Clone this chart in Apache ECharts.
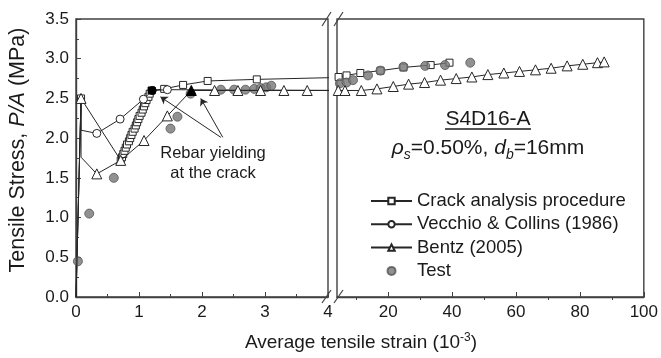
<!DOCTYPE html>
<html>
<head>
<meta charset="utf-8">
<script src="https://cdn.jsdelivr.net/npm/echarts@6/dist/echarts.min.js"></script>
<style>html,body{margin:0;padding:0;background:#fff;}#c{width:661px;height:358px;}</style>
</head>
<body>
<div id="c"></div>
<script>
// ---- data (strain in 10^-3, stress in MPa) ----
const seriesNames = ['Crack analysis procedure', 'Vecchio & Collins (1986)', 'Bentz (2005)', 'Test'];
const xTicksLeft = [0, 1, 2, 3, 4];
const xTicksRight = [20, 40, 60, 80, 100];
const xMinorRight = [10, 30, 50, 70, 90];
const yTicks = [0, 0.5, 1.0, 1.5, 2.0, 2.5, 3.0, 3.5];

const crackLeft = [[0,0],[0.08,2.50],[0.71,1.72],
  [0.73,1.76],[0.75,1.80],[0.77,1.84],[0.79,1.88],[0.81,1.92],[0.84,1.96],[0.86,2.00],
  [0.88,2.04],[0.90,2.08],[0.93,2.12],[0.95,2.16],[0.97,2.20],[0.99,2.24],[1.01,2.28],
  [1.04,2.32],[1.06,2.36],[1.08,2.40],[1.10,2.44],[1.12,2.48],[1.15,2.52],[1.17,2.56],
  [1.20,2.60],[1.40,2.62],[1.70,2.67],[2.09,2.72],[2.87,2.74],[4.50,2.77]];
const crackRight = [[2.87,2.74],[4.5,2.77],[7.0,2.79],[11.3,2.82],[17.6,2.85],[24.8,2.89],[33.3,2.92],[39.2,2.95]];
const vecchioLeft = [[0,0],[0.08,2.50],[0.08,2.10],[0.33,2.06],[0.70,2.24],[1.07,2.49],[1.21,2.60],[1.45,2.61],[4.5,2.60]];
const bentzLeft = [[0,0],[0.08,2.50],[0.08,1.76],[0.33,1.55],[0.71,1.72],[1.08,1.97],[1.45,2.28],[1.83,2.60],
  [2.20,2.60],[2.57,2.60],[2.93,2.60],[3.30,2.60],[3.67,2.60],[4.4,2.60]];
const bentzRight = [[3.67,2.60],[4.4,2.60],[6.5,2.60],[11.6,2.60],[16.5,2.62],[21.6,2.65],[26.4,2.68],[31.4,2.70],
  [36.4,2.73],[41.3,2.75],[46.2,2.77],[51.2,2.80],[56.2,2.82],[61.1,2.84],[66.1,2.86],[71.0,2.88],
  [76.0,2.91],[80.9,2.93],[85.5,2.95],[87.6,2.96]];
const testLeft = [[0.03,0.45],[0.21,1.05],[0.60,1.50],[1.50,2.12],[1.61,2.27],[1.82,2.56],[2.30,2.61],[2.51,2.61],
  [2.69,2.61],[2.83,2.62],[2.93,2.63],[3.02,2.64],[3.10,2.66]];
const testRight = [[4.9,2.69],[7.0,2.70],[9.0,2.73],[13.7,2.79],[17.6,2.85],[24.8,2.90],[31.6,2.91],[37.8,2.92],[45.7,2.95]];
// arrows: [text end, yielding point]
const arrows = [[[2.30,2.01],[1.34,2.52]],[[2.33,2.01],[1.98,2.50]]];

// ---- styling helpers ----
const FONT = "Arial, 'Liberation Sans', sans-serif";
const LINE = '#262626';
const AX = '#404040';

function mk(arr, hide, black) {
  return arr.map((p, i) => {
    const o = { value: p };
    if (hide.includes(i)) o.symbol = 'none';
    if (black.includes(i)) o.itemStyle = { color: '#000', borderColor: '#000' };
    return o;
  });
}
function lineSeries(name, data, xi, symbol, size, z) {
  return {
    name, type: 'line', xAxisIndex: xi, yAxisIndex: xi, data,
    symbol, symbolSize: size, showAllSymbol: true, clip: true, z,
    itemStyle: { color: '#fff', borderColor: LINE, borderWidth: 1 },
    lineStyle: { color: LINE, width: 1 },
    emphasis: { disabled: true }
  };
}
function testSeries(data, xi) {
  return {
    name: 'Test', type: 'scatter', xAxisIndex: xi, yAxisIndex: xi, data,
    symbol: 'circle', symbolSize: 9, z: 4, clip: true,
    itemStyle: { color: '#767676', borderColor: '#555', borderWidth: 1 },
    emphasis: { disabled: true }
  };
}

const chart = echarts.init(document.getElementById('c'), null, { renderer: 'canvas' });

const vecS = lineSeries(seriesNames[1], mk(vecchioLeft, [0, 1, 2, vecchioLeft.length - 1], [6]), 0, 'circle', 8, 3);
vecS.markLine = {
  silent: true, symbol: ['none', 'arrow'], symbolSize: 7, animation: false,
  lineStyle: { color: LINE, width: 1, type: 'solid' }, label: { show: false },
  data: arrows.map(a => [{ coord: a[0] }, { coord: a[1] }])
};

const tickStyle = { inside: true, length: 5, lineStyle: { color: AX, width: 1 } };
const labelStyle = { fontSize: 17, color: '#1a1a1a', fontFamily: FONT };

const option = {
  animation: false,
  backgroundColor: '#fff',
  grid: [
    { left: 76, top: 19, width: 252, height: 278, show: true, borderColor: AX, borderWidth: 1.4, backgroundColor: 'transparent' },
    { left: 337, top: 19, width: 310, height: 278, show: true, borderColor: AX, borderWidth: 1.4, backgroundColor: 'transparent' }
  ],
  xAxis: [
    { gridIndex: 0, type: 'value', min: xTicksLeft[0], max: xTicksLeft[xTicksLeft.length - 1], interval: 1,
      axisLine: { show: true, lineStyle: { color: AX, width: 1.4 } },
      axisTick: tickStyle, minorTick: { show: true, splitNumber: 2, length: 3, lineStyle: { color: AX } },
      splitLine: { show: false }, axisLabel: Object.assign({ margin: 7 }, labelStyle) },
    { gridIndex: 1, type: 'value', min: 4, max: 100,
      axisLine: { show: true, lineStyle: { color: AX, width: 1.4 } },
      axisTick: Object.assign({ customValues: xTicksRight }, tickStyle),
      splitLine: { show: false },
      axisLabel: Object.assign({ margin: 7, customValues: xTicksRight }, labelStyle) },
    { gridIndex: 1, type: 'value', min: 4, max: 100,
      axisLine: { show: false },
      axisTick: { inside: true, length: 3, customValues: xMinorRight, lineStyle: { color: AX } },
      splitLine: { show: false }, axisLabel: { show: false } }
  ],
  yAxis: [
    { gridIndex: 0, type: 'value', min: yTicks[0], max: yTicks[yTicks.length - 1], interval: 0.5,
      axisLine: { show: true, lineStyle: { color: AX, width: 1.4 } },
      axisTick: tickStyle, minorTick: { show: true, splitNumber: 2, length: 3, lineStyle: { color: AX } },
      splitLine: { show: false },
      axisLabel: Object.assign({ margin: 7, formatter: v => v.toFixed(1) }, labelStyle) },
    { gridIndex: 1, type: 'value', min: 0, max: 3.5, show: false },
    { gridIndex: 1, type: 'value', min: 0, max: 3.5, show: false }
  ],
  legend: {
    data: seriesNames, orient: 'vertical', left: 365, top: 186,
    itemWidth: 41, itemHeight: 8, itemGap: 3.3, selectedMode: false,
    textStyle: { fontSize: 18.5, color: '#1a1a1a', fontFamily: FONT, lineHeight: 20 }
  },
  series: [
    lineSeries(seriesNames[0], mk(crackLeft, [0], [24]), 0, 'rect', 7, 2),
    lineSeries(seriesNames[0], mk(crackRight, [], []), 1, 'rect', 7, 2),
    vecS,
    testSeries(testLeft, 0),
    testSeries(testRight, 1),
    lineSeries(seriesNames[2], mk(bentzLeft, [0, 2], [7]), 0, 'triangle', 10, 5),
    lineSeries(seriesNames[2], mk(bentzRight, [], []), 1, 'triangle', 10, 5)
  ],
  graphic: [
    // axis break marks
    { type: 'line', shape: { x1: 322, y1: 26, x2: 331, y2: 12 }, style: { stroke: AX, lineWidth: 1.2 } },
    { type: 'line', shape: { x1: 334, y1: 26, x2: 343, y2: 12 }, style: { stroke: AX, lineWidth: 1.2 } },
    { type: 'line', shape: { x1: 322, y1: 303, x2: 331, y2: 290 }, style: { stroke: AX, lineWidth: 1.2 } },
    { type: 'line', shape: { x1: 334, y1: 303, x2: 343, y2: 290 }, style: { stroke: AX, lineWidth: 1.2 } },
    // axis titles
    { type: 'text', x: 361, y: 343, style: {
        text: 'Average tensile strain (10{sup|-3})', fontSize: 19, fontFamily: FONT, fill: '#1a1a1a',
        align: 'center', verticalAlign: 'middle', lineHeight: 22,
        rich: { sup: { fontSize: 12, fontFamily: FONT, lineHeight: 12, verticalAlign: 'top' } } } },
    { type: 'text', x: 18, y: 150, rotation: Math.PI / 2, style: {
        text: 'Tensile Stress, {i|P/A} (MPa)', fontSize: 21.5, fontFamily: FONT, fill: '#1a1a1a',
        align: 'center', verticalAlign: 'middle',
        rich: { i: { fontSize: 21.5, fontFamily: FONT, fontStyle: 'italic' } } } },
    // annotations
    { type: 'text', x: 213, y: 163, style: {
        text: 'Rebar yielding\nat the crack', fontSize: 16.5, fontFamily: FONT, fill: '#1a1a1a',
        align: 'center', verticalAlign: 'middle', lineHeight: 20 } },
    { type: 'text', x: 488, y: 119, style: {
        text: 'S4D16-A', fontSize: 21, fontFamily: FONT, fill: '#1a1a1a', align: 'center', verticalAlign: 'middle' } },
    { type: 'line', shape: { x1: 445, y1: 129, x2: 531, y2: 129 }, style: { stroke: '#1a1a1a', lineWidth: 1.3 } },
    { type: 'text', x: 488, y: 148, style: {
        text: '{i|ρ}{sub|s}=0.50%, {i|d}{sub|b}=16mm', fontSize: 21, fontFamily: FONT, fill: '#1a1a1a',
        align: 'center', verticalAlign: 'middle', lineHeight: 28,
        rich: {
          i: { fontSize: 21, fontFamily: FONT, fontStyle: 'italic', lineHeight: 28 },
          sub: { fontSize: 14, fontFamily: FONT, fontStyle: 'italic', lineHeight: 14, verticalAlign: 'bottom' }
        } } }
  ]
};
chart.setOption(option);
</script>
</body>
</html>
